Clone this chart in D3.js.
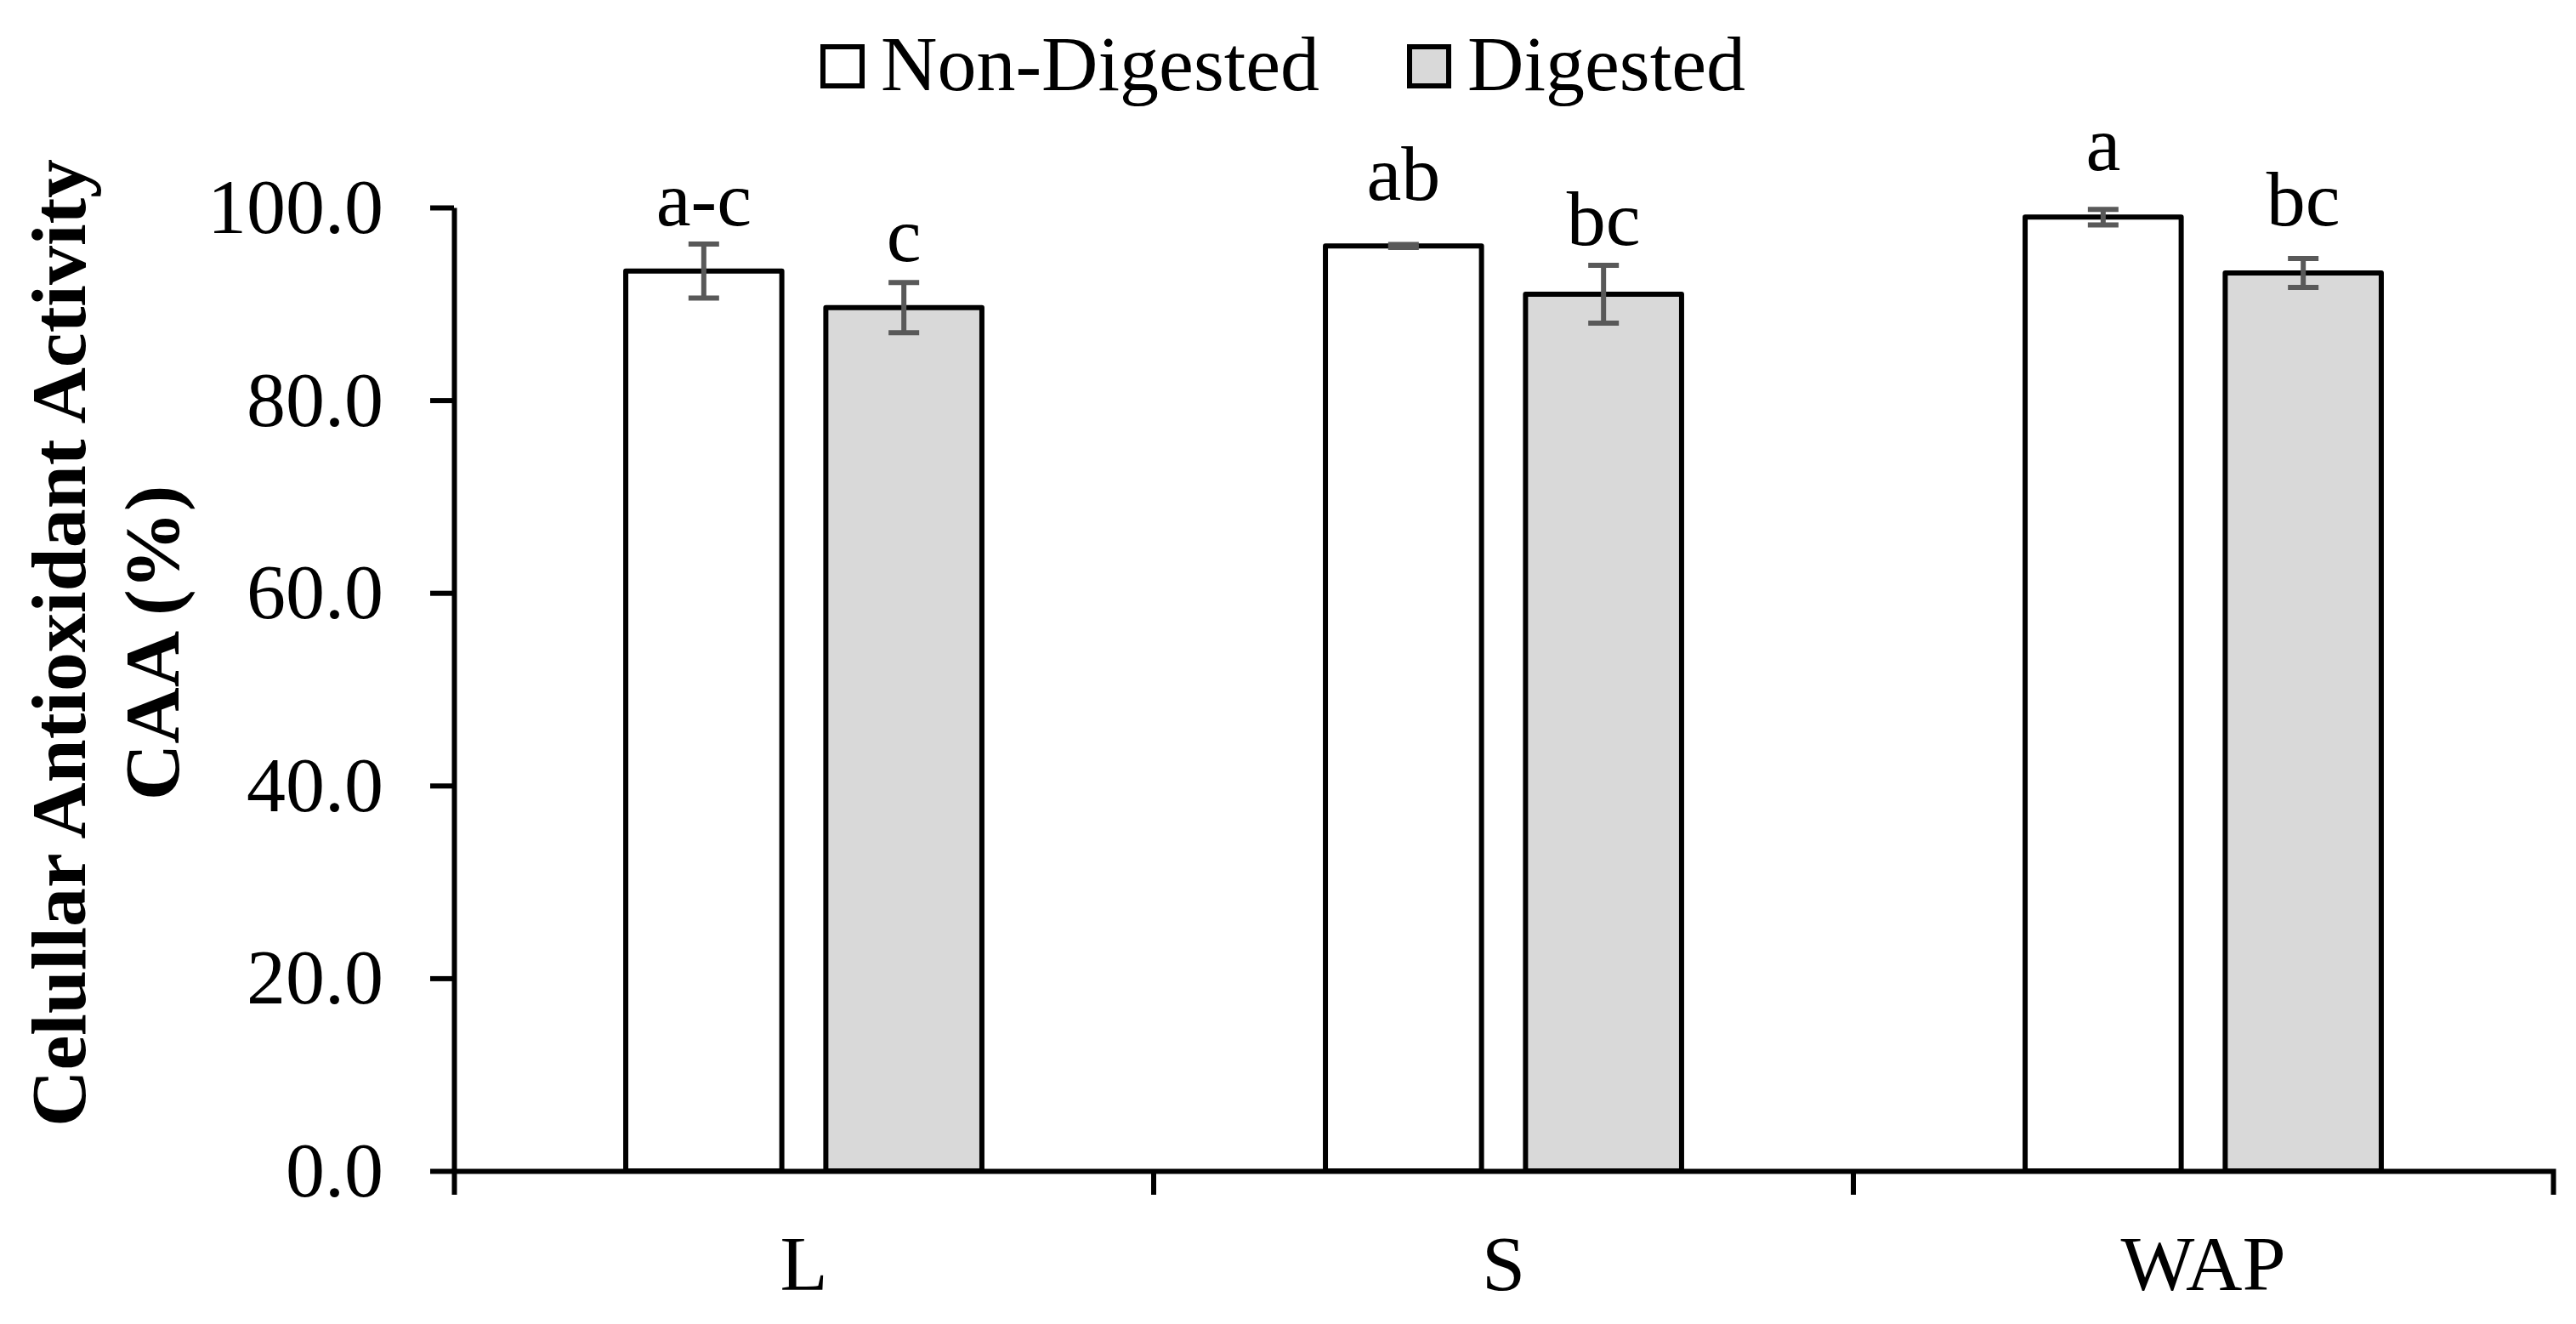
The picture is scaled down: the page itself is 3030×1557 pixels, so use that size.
<!DOCTYPE html>
<html lang="en">
	<head>
		<meta charset="utf-8">
		<title>Celullar Antioxidant Activity</title>
		<script type="text/javascript" src="https://cdn.jsdelivr.net/npm/d3@7"></script>
		<style type="text/css">
			body { margin: 0; background: #fff; }
			text { font-family: "Liberation Serif", "Times New Roman", serif; }
		</style>
	</head>
	<body>
		<script type="text/javascript">

			//Data
			var categories = ["L", "S", "WAP"];
			var seriesNames = ["Non-Digested", "Digested"];
			var nonDigested = [93.4, 96.0, 99.0];
			var nonDigestedSd = [2.8, 0.15, 0.8];
			var digested = [89.6, 91.0, 93.2];
			var digestedSd = [2.6, 3.0, 1.5];
			var nonDigestedLetters = ["a-c", "ab", "a"];
			var digestedLetters = ["c", "bc", "bc"];
			//value height at which each letter sits
			var nonDigestedLetterAt = [98.15, 100.8, 103.9];
			var digestedLetterAt = [94.4, 96.1, 98.15];
			var yTicks = [0, 20, 40, 60, 80, 100];

			var w = 3030;
			var h = 1557;
			var margin = {top: 244, right: 27, bottom: 177, left: 534};
			var fills = ["#ffffff", "#d9d9d9"];
			var fontSize = 92;

			var rows = [];
			categories.forEach(function(c, i) {
				rows.push({cat: c, s: 0, v: nonDigested[i], sd: nonDigestedSd[i], letter: nonDigestedLetters[i], at: nonDigestedLetterAt[i]});
				rows.push({cat: c, s: 1, v: digested[i], sd: digestedSd[i], letter: digestedLetters[i], at: digestedLetterAt[i]});
			});

			var svg = d3.select("body")
						.append("svg")
						.attr("width", w)
						.attr("height", h);

			//Scales
			var x0 = d3.scaleBand()
						.domain(categories)
						.range([margin.left, w - margin.right]);

			var groupW = x0.bandwidth() * 0.509;
			var x1 = d3.scaleBand()
						.domain(d3.range(seriesNames.length))
						.range([-groupW / 2, groupW / 2])
						.paddingInner(0.22);

			var y = d3.scaleLinear()
						.domain([0, 100])
						.range([h - margin.bottom - 3, margin.top]);

			//Bars
			svg.selectAll("rect.bar")
			   .data(rows)
			   .enter()
			   .append("rect")
			   .attr("class", "bar")
			   .attr("x", function(d) {
			   		return x0(d.cat) + x0.bandwidth() / 2 + x1(d.s);
			   })
			   .attr("y", function(d) {
			   		return y(d.v);
			   })
			   .attr("width", x1.bandwidth())
			   .attr("height", function(d) {
			   		return y(0) - y(d.v);
			   })
			   .attr("fill", function(d) {
			   		return fills[d.s];
			   })
			   .attr("stroke", "#000")
			   .attr("stroke-width", 6)
			   .attr("stroke-linejoin", "round");

			//Error bars
			var cap = 18;
			var err = svg.selectAll("g.err")
						.data(rows)
						.enter()
						.append("g")
						.attr("class", "err")
						.attr("stroke", "#595959")
						.attr("stroke-width", 6);

			function cx(d) {
				return x0(d.cat) + x0.bandwidth() / 2 + x1(d.s) + x1.bandwidth() / 2;
			}

			err.append("line")
			   .attr("x1", cx).attr("x2", cx)
			   .attr("y1", function(d) { return y(d.v + d.sd); })
			   .attr("y2", function(d) { return y(d.v - d.sd); });
			err.append("line")
			   .attr("x1", function(d) { return cx(d) - cap; })
			   .attr("x2", function(d) { return cx(d) + cap; })
			   .attr("y1", function(d) { return y(d.v + d.sd); })
			   .attr("y2", function(d) { return y(d.v + d.sd); });
			err.append("line")
			   .attr("x1", function(d) { return cx(d) - cap; })
			   .attr("x2", function(d) { return cx(d) + cap; })
			   .attr("y1", function(d) { return y(d.v - d.sd); })
			   .attr("y2", function(d) { return y(d.v - d.sd); });

			//Significance letters
			svg.selectAll("text.letter")
			   .data(rows)
			   .enter()
			   .append("text")
			   .attr("class", "letter")
			   .text(function(d) { return d.letter; })
			   .attr("text-anchor", "middle")
			   .attr("x", cx)
			   .attr("y", function(d) { return y(d.at); })
			   .attr("font-size", fontSize + "px")
			   .attr("fill", "#000");

			//Y axis
			var yAxis = d3.axisLeft(y)
						.tickValues(yTicks)
						.tickSize(28)
						.tickSizeOuter(0)
						.tickPadding(55)
						.tickFormat(d3.format(".1f"));

			var gy = svg.append("g")
						.attr("transform", "translate(" + margin.left + ",0)")
						.call(yAxis);

			//X axis, outer ticks mark the ends
			var xAxis = d3.axisBottom(x0)
						.tickSize(0)
						.tickSizeOuter(28)
						.tickPadding(75);

			var gx = svg.append("g")
						.attr("transform", "translate(0," + y(0) + ")")
						.call(xAxis);

			//inner category boundaries
			gx.selectAll("line.sep")
			  .data(categories.slice(1))
			  .enter()
			  .append("line")
			  .attr("class", "sep")
			  .attr("x1", function(d) { return x0(d); })
			  .attr("x2", function(d) { return x0(d); })
			  .attr("y1", 0)
			  .attr("y2", 28);

			[gy, gx].forEach(function(g) {
				g.selectAll("path, line")
				 .attr("stroke", "#000")
				 .attr("stroke-width", 6);
				g.selectAll("text")
				 .attr("font-size", fontSize + "px")
				 .attr("font-family", "Liberation Serif, Times New Roman, serif")
				 .attr("fill", "#000");
			});

			//Y axis title
			var title = svg.append("text")
						.attr("transform", "rotate(-90)")
						.attr("text-anchor", "middle")
						.attr("font-size", fontSize + "px")
						.attr("font-weight", "bold");
			title.append("tspan")
				 .attr("x", -756)
				 .attr("y", 100)
				 .text("Celullar Antioxidant Activity");
			title.append("tspan")
				 .attr("x", -756)
				 .attr("y", 210)
				 .text("CAA (%)");

			//Legend
			var legendX = [968, 1658];
			var legend = svg.selectAll("g.legend")
						.data(seriesNames)
						.enter()
						.append("g")
						.attr("class", "legend")
						.attr("transform", function(d, i) {
							return "translate(" + legendX[i] + ",55)";
						});
			legend.append("rect")
				  .attr("width", 46)
				  .attr("height", 46)
				  .attr("fill", function(d, i) { return fills[i]; })
				  .attr("stroke", "#000")
				  .attr("stroke-width", 6);
			legend.append("text")
				  .attr("x", 68)
				  .attr("y", 51)
				  .attr("font-size", fontSize + "px")
				  .text(function(d) { return d; });

		</script>
	</body>
</html>
